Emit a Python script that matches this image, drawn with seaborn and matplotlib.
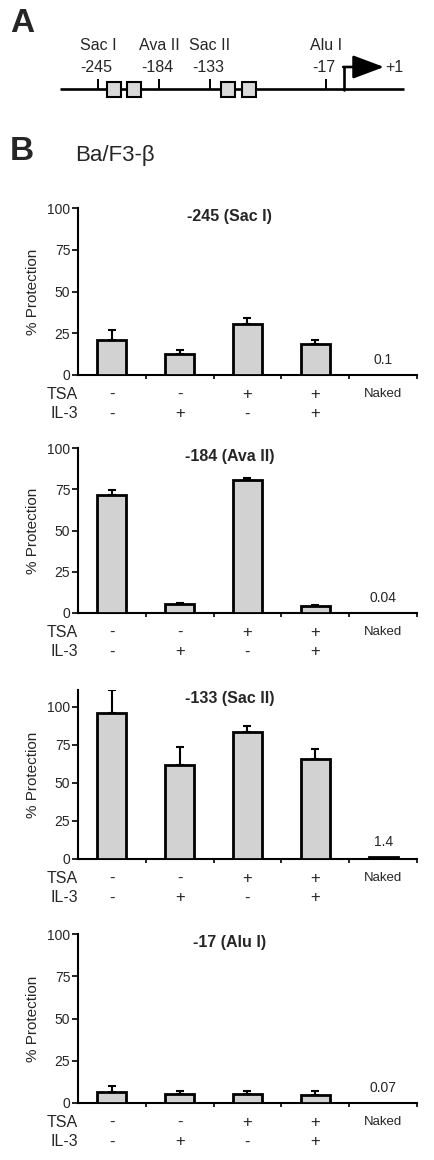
import numpy as np
import pandas as pd
import matplotlib
matplotlib.use("Agg")
import matplotlib.pyplot as plt
from matplotlib.patches import Rectangle
import seaborn as sns

# -----------------------------
# Data
# -----------------------------
# panel A: restriction sites and boxed elements (bp relative to +1)
site_names = ["Sac I", "Ava II", "Sac II", "Alu I"]
site_pos = [-245, -184, -133, -17]
box_pos = [-229, -209, -115, -94]

# panel B: % protection per condition
conditions = ["ctrl", "IL-3", "TSA", "TSA+IL-3", "Naked"]
tsa_row = ["-", "-", "+", "+", "Naked"]
il3_row = ["-", "+", "-", "+", ""]

titles = ["-245 (Sac I)", "-184 (Ava II)", "-133 (Sac II)", "-17 (Alu I)"]
values = [
    [21.0, 12.3, 30.5, 18.5, 0.1],
    [71.7, 5.5, 80.6, 4.0, 0.04],
    [95.6, 61.8, 83.2, 66.0, 1.4],
    [6.5, 5.5, 5.5, 4.9, 0.07],
]
errors = [
    [6.0, 2.7, 3.5, 2.2, 0.0],
    [2.6, 0.6, 1.0, 0.6, 0.0],
    [15.4, 12.0, 4.3, 6.3, 0.0],
    [3.3, 1.4, 1.4, 2.4, 0.0],
]
naked_labels = ["0.1", "0.04", "1.4", "0.07"]
y_max = [100, 100, 111, 100]

W, H = 435, 1160
BAR_COLOR = "#d2d2d2"

sns.set_theme(style="ticks")
plt.rcParams["font.family"] = ["Liberation Sans", "DejaVu Sans"]


def fig_box(left, top, right, bottom):
    # pixel box -> figure fraction
    return [left / W, 1 - bottom / H, (right - left) / W, (bottom - top) / H]


# -----------------------------
# Panel A: promoter map
# -----------------------------
def draw_map(fig):
    ax = fig.add_axes([0, 1 - 130 / H, 1, 130 / H])
    ax.set_xlim(-343, 92)
    ax.set_ylim(130, 0)
    ax.axis("off")

    ax.plot([-283, 61], [89, 89], color="black", lw=1.9, solid_capstyle="butt")
    ax.vlines(site_pos, 79, 89, color="black", lw=1.4)

    for name, pos in zip(site_names, site_pos):
        ax.text(pos, 46, name, ha="center", va="center", fontsize=11.5)
        ax.text(pos - 2, 68, str(pos), ha="center", va="center", fontsize=11.5)

    for pos in box_pos:
        ax.add_patch(Rectangle((pos - 7, 82), 14, 15, facecolor="#d9d9d9",
                               edgecolor="black", lw=1.5, zorder=3))

    # transcription start
    ax.plot([1, 1], [89.8, 67], color="black", lw=1.9)
    ax.annotate("", xy=(41, 67), xytext=(0.2, 67),
                arrowprops=dict(arrowstyle="-|>,head_length=1.6,head_width=0.6",
                                color="black", lw=1.9, shrinkA=0, shrinkB=0))
    ax.text(42, 67, "+1", ha="left", va="center", fontsize=11.5)


# -----------------------------
# Panel B: bar charts
# -----------------------------
def draw_bars(ax, vals, errs, title, naked, top):
    df = pd.DataFrame({"cond": conditions, "value": vals})
    sns.barplot(data=df, x="cond", y="value", ax=ax, color=BAR_COLOR,
                saturation=1, edgecolor="black", linewidth=2.0, width=0.43,
                errorbar=None, zorder=3)

    idx = [i for i, e in enumerate(errs) if e > 0]
    ax.errorbar(idx, [vals[i] for i in idx],
                yerr=[[0] * len(idx), [errs[i] for i in idx]],
                fmt="none", ecolor="black", elinewidth=1.5, capsize=3,
                capthick=1.5, zorder=2)

    ax.set_xlim(-0.5, 4.5)
    ax.set_ylim(0, top)
    ax.set_yticks([0, 25, 50, 75, 100])
    ax.set_xticks(range(5))
    ax.set_xticklabels([])
    ax.set_xticks(np.arange(0.5, 5, 1), minor=True)
    ax.tick_params(axis="x", which="major", length=0)
    ax.tick_params(axis="x", which="minor", length=3, width=1.2,
                   direction="out", color="black")
    ax.tick_params(axis="y", length=4, width=1.2, direction="out",
                   color="black", labelsize=10, pad=1.5)

    for s in ["top", "right"]:
        ax.spines[s].set_visible(False)
    for s in ["left", "bottom"]:
        ax.spines[s].set_linewidth(1.5)
        ax.spines[s].set_color("black")

    ax.set_xlabel("")
    ax.set_ylabel("% Protection", fontsize=11, labelpad=5)

    ax.annotate(title, xy=(0.448, 1), xycoords="axes fraction",
                xytext=(0, -6), textcoords="offset points",
                ha="center", va="center", fontsize=11.5, fontweight="bold")

    ax.annotate(naked, xy=(4, vals[4]), xytext=(0, 11),
                textcoords="offset points", ha="center", va="center",
                fontsize=10)

    # condition rows under the axis
    for i, (t, il) in enumerate(zip(tsa_row, il3_row)):
        fs = 9.5 if t == "Naked" else 12
        ax.annotate(t, xy=(i, 0), xycoords=("data", "axes fraction"),
                    xytext=(0, -14), textcoords="offset points",
                    ha="center", va="center", fontsize=fs)
        if il:
            ax.annotate(il, xy=(i, 0), xycoords=("data", "axes fraction"),
                        xytext=(0, -28), textcoords="offset points",
                        ha="center", va="center", fontsize=12)
    ax.annotate("TSA", xy=(0, 0), xycoords="axes fraction",
                xytext=(0, -14), textcoords="offset points",
                ha="right", va="center", fontsize=11.5)
    ax.annotate("IL-3", xy=(0, 0), xycoords="axes fraction",
                xytext=(0, -28), textcoords="offset points",
                ha="right", va="center", fontsize=11.5)


def main():
    fig = plt.figure(figsize=(W / 100, H / 100), dpi=100)

    draw_map(fig)

    fig.text(10 / W, 1 - 23 / H, "A", fontsize=24, fontweight="bold",
             ha="left", va="center")
    fig.text(10 / W, 1 - 152 / H, "B", fontsize=24, fontweight="bold",
             ha="left", va="center")
    fig.text(75 / W, 1 - 155 / H, "Ba/F3-β", fontsize=16,
             ha="left", va="center")

    boxes = [
        fig_box(78, 208, 417, 375),
        fig_box(78, 448, 417, 613),
        fig_box(78, 690, 417, 859),
        fig_box(78, 934, 417, 1103),
    ]
    for box, vals, errs, title, naked, top in zip(
            boxes, values, errors, titles, naked_labels, y_max):
        ax = fig.add_axes(box)
        draw_bars(ax, vals, errs, title, naked, top)

    fig.savefig("out.png", dpi=100, facecolor="white")


if __name__ == "__main__":
    main()
